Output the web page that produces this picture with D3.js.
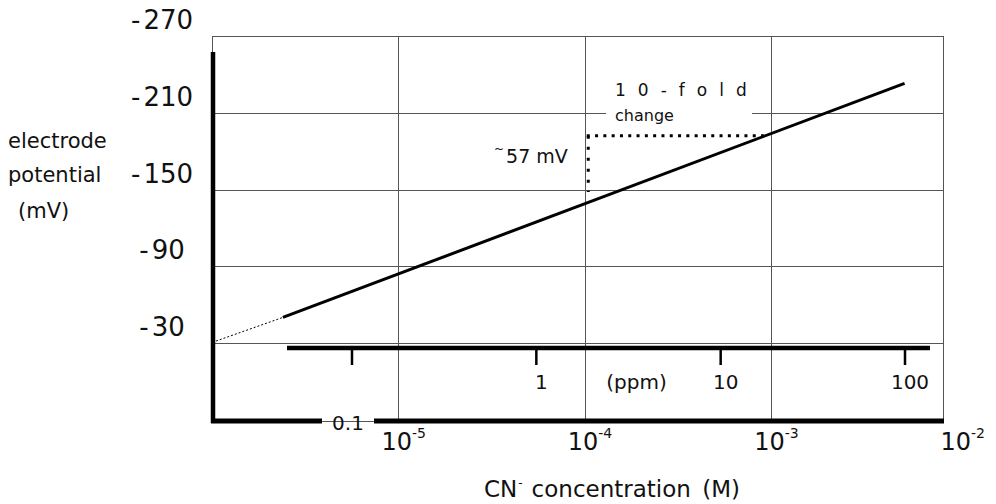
<!DOCTYPE html>
<html>
<head>
<meta charset="utf-8">
<script src="https://cdn.jsdelivr.net/npm/d3@7"></script>
<style>
  body { margin: 0; background: #fff; }
  text { font-family: "DejaVu Sans", sans-serif; fill: #111; }
</style>
</head>
<body>
<div id="chart"></div>
<script>
// Chart data
var yTicks = [-270, -210, -150, -90, -30];
var molarExps = [-5, -4, -3, -2];
var ppmTicks = [0.1, 1, 10, 100];
var ppmLabels = ["0.1", "1", "10", "100"];

// electrode response (conc in M, potential in mV)
var lineConc = [2.4e-6, 5.2e-3];
var lineMv = [-50, -233];
var extrapConc = [1.05e-6, 2.4e-6];
var extrapMv = [-31.5, -50];

// 10-fold change annotation
var foldConc = [1e-4, 0.96e-3];
var foldMv = -192;
var dropMv = [-192, -148];

// SVG window
var svgWidth = 996;
var svgHeight = 504;

var frame = { left: 212, top: 36, right: 943, bottom: 421 };

var svg = d3.select("#chart")
  .append("svg")
  .attr("width", svgWidth)
  .attr("height", svgHeight);

// Scales
var xScale = d3.scaleLog().domain([1e-6, 1e-2]).range([212, 957.5]);
var yScale = d3.scaleLinear().domain([-30, -270]).range([343, 36]);
var ppmScale = d3.scaleLog().domain([0.1, 100]).range([352, 905]);

var crisp = v => Math.round(v) + 0.5;
var gridColor = "#555";

// frame + grid
svg.append("rect")
  .attr("x", frame.left + 0.5)
  .attr("y", frame.top + 0.5)
  .attr("width", frame.right - frame.left)
  .attr("height", frame.bottom - frame.top)
  .attr("fill", "none")
  .attr("stroke", gridColor);

svg.selectAll(".hgrid")
  .data(yTicks)
  .enter()
  .append("line")
  .attr("x1", frame.left)
  .attr("x2", frame.right)
  .attr("y1", d => crisp(yScale(d)))
  .attr("y2", d => crisp(yScale(d)))
  .attr("stroke", gridColor);

svg.selectAll(".vgrid")
  .data(molarExps.filter(e => e < -2))
  .enter()
  .append("line")
  .attr("x1", d => crisp(xScale(Math.pow(10, d))))
  .attr("x2", d => crisp(xScale(Math.pow(10, d))))
  .attr("y1", frame.top)
  .attr("y2", frame.bottom)
  .attr("stroke", gridColor);

// "10-fold change" label sits on a white patch over the grid line
svg.append("rect")
  .attr("x", 606)
  .attr("y", 104)
  .attr("width", 146)
  .attr("height", 18)
  .attr("fill", "#fff");

svg.append("text")
  .attr("x", 615)
  .attr("y", 96)
  .attr("font-size", 17)
  .attr("letter-spacing", 12)
  .text("10-fold");

svg.append("text")
  .attr("x", 615)
  .attr("y", 121)
  .attr("font-size", 16)
  .text("change");

// dotted step
svg.append("line")
  .attr("x1", xScale(foldConc[0]) + 2)
  .attr("x2", xScale(foldConc[1]))
  .attr("y1", yScale(foldMv))
  .attr("y2", yScale(foldMv))
  .attr("stroke", "#000")
  .attr("stroke-width", 3)
  .attr("stroke-dasharray", "3,5.3");

svg.append("line")
  .attr("x1", xScale(foldConc[0]) + 3.5)
  .attr("x2", xScale(foldConc[0]) + 3.5)
  .attr("y1", yScale(dropMv[0]))
  .attr("y2", yScale(dropMv[1]))
  .attr("stroke", "#000")
  .attr("stroke-width", 3)
  .attr("stroke-dasharray", "3,8");

svg.append("text")
  .attr("x", 494)
  .attr("y", 163)
  .attr("font-size", 19)
  .call(t => t.append("tspan").attr("font-size", 12).attr("dy", -10).text("~"))
  .call(t => t.append("tspan").attr("dy", 10).attr("dx", 2).text("57 mV"));

// response line
var lineGen = d3.line()
  .x(d => xScale(d[0]))
  .y(d => yScale(d[1]));

svg.append("path")
  .datum(d3.zip(extrapConc, extrapMv))
  .attr("d", lineGen)
  .attr("fill", "none")
  .attr("stroke", "#000")
  .attr("stroke-width", 1)
  .attr("stroke-dasharray", "2,2");

svg.append("path")
  .datum(d3.zip(lineConc, lineMv))
  .attr("d", lineGen)
  .attr("fill", "none")
  .attr("stroke", "#000")
  .attr("stroke-width", 3);

// thick axes
var axisW = 4.5;
svg.append("line")
  .attr("x1", 213).attr("x2", 213)
  .attr("y1", 52).attr("y2", frame.bottom + 2)
  .attr("stroke", "#000").attr("stroke-width", axisW);

var gapMid = ppmScale(ppmTicks[0]) - 4;
svg.append("line")
  .attr("x1", 211).attr("x2", gapMid - 26)
  .attr("y1", frame.bottom).attr("y2", frame.bottom)
  .attr("stroke", "#000").attr("stroke-width", axisW + 0.5);
svg.append("line")
  .attr("x1", gapMid + 26).attr("x2", frame.right + 1)
  .attr("y1", frame.bottom).attr("y2", frame.bottom)
  .attr("stroke", "#000").attr("stroke-width", axisW + 0.5);

// ppm axis
var ppmY = 348;
svg.append("line")
  .attr("x1", 287).attr("x2", 930)
  .attr("y1", ppmY).attr("y2", ppmY)
  .attr("stroke", "#000").attr("stroke-width", axisW);

svg.selectAll(".ppmtick")
  .data(ppmTicks)
  .enter()
  .append("line")
  .attr("x1", d => ppmScale(d))
  .attr("x2", d => ppmScale(d))
  .attr("y1", ppmY)
  .attr("y2", 365)
  .attr("stroke", "#000")
  .attr("stroke-width", 2.5);

svg.selectAll(".ppmlabel")
  .data(ppmTicks.slice(1))
  .enter()
  .append("text")
  .attr("x", d => ppmScale(d) + 5)
  .attr("y", 389)
  .attr("font-size", 20)
  .attr("text-anchor", "middle")
  .text((d, i) => ppmLabels[i + 1]);

svg.append("text")
  .attr("x", gapMid)
  .attr("y", 430)
  .attr("font-size", 20)
  .attr("text-anchor", "middle")
  .text(ppmLabels[0]);

svg.append("text")
  .attr("x", ppmScale(Math.sqrt(10)) + 8)
  .attr("y", 389)
  .attr("font-size", 20)
  .attr("text-anchor", "middle")
  .text("(ppm)");

// y tick labels
var yLabels = svg.selectAll(".ylabel")
  .data(yTicks)
  .enter()
  .append("text")
  .attr("x", 162)
  .attr("y", d => yScale(d) - 7)
  .attr("font-size", 26)
  .attr("text-anchor", "middle");
yLabels.append("tspan").text("-");
yLabels.append("tspan").attr("dx", 3).text(d => Math.abs(d));

// molar tick labels
var mLabels = svg.selectAll(".mlabel")
  .data(molarExps)
  .enter()
  .append("text")
  .attr("x", d => xScale(Math.pow(10, d)) - 17)
  .attr("y", 450)
  .attr("font-size", 24);
mLabels.append("tspan").text("10");
mLabels.append("tspan")
  .attr("font-size", 14)
  .attr("dy", -12)
  .text(d => "-" + Math.abs(d));

// axis titles
var yTitle = ["electrode", "potential", "(mV)"];
svg.selectAll(".ytitle")
  .data(yTitle)
  .enter()
  .append("text")
  .attr("x", (d, i) => i === 2 ? 18 : 8)
  .attr("y", (d, i) => [148, 182, 218][i])
  .attr("font-size", 21)
  .text(d => d);

var xTitle = svg.append("text")
  .attr("x", 484)
  .attr("y", 497)
  .attr("font-size", 23);
xTitle.append("tspan").text("CN");
xTitle.append("tspan").attr("font-size", 12).attr("dy", -10).attr("dx", 1).text("-");
xTitle.append("tspan").attr("dy", 10).attr("dx", 9).text("concentration");
xTitle.append("tspan").attr("dx", 4).text(" (M)");
</script>
</body>
</html>
